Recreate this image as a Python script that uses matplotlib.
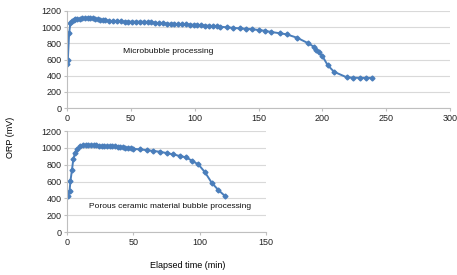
import matplotlib.pyplot as plt

# -----------------------------
# Data
# -----------------------------
micro_t = [0, 0.5, 1.5, 2.5, 4, 5, 6, 8, 10, 12, 14, 16, 18, 20, 22, 24, 26, 28,
           30, 33, 36, 39, 42, 45, 48, 51, 54, 57, 60, 63, 66, 69, 72, 75, 78,
           81, 84, 87, 90, 93, 96, 99, 102, 105, 108, 111, 114, 117, 120, 125,
           130, 135, 140, 145, 150, 155, 160, 167, 172, 180, 189, 193, 195, 197,
           200, 204, 209, 219, 224, 229, 234, 239]
micro_orp = [550, 592, 923, 1047, 1075, 1088, 1095, 1100, 1105, 1110, 1112, 1118,
             1115, 1110, 1105, 1100, 1092, 1088, 1083, 1078, 1076, 1074, 1072, 1070,
             1069, 1068, 1068, 1068, 1067, 1065, 1060, 1055, 1050, 1047, 1045, 1042,
             1040, 1037, 1035, 1034, 1032, 1030, 1028, 1025, 1020, 1018, 1014, 1010,
             1006, 998, 992, 985, 980, 975, 965, 955, 940, 924, 911, 870, 800, 760,
             717, 690, 640, 532, 449, 380, 376, 374, 373, 373]

porous_t = [0.5, 1.8, 2.5, 3.6, 4.6, 5.8, 7.1, 9.4, 12, 14, 16, 18, 20, 22, 24,
            26, 28, 30, 32, 34, 36, 38, 40, 42, 44, 46, 48, 50, 55, 60, 65, 70,
            75, 80, 85, 90, 94, 99, 104, 109, 114, 119]
porous_orp = [430, 493, 612, 738, 864, 935, 983, 1022, 1030, 1034, 1034, 1033,
              1032, 1030, 1028, 1025, 1022, 1022, 1021, 1020, 1018, 1015, 1012,
              1008, 1005, 1002, 1000, 990, 983, 975, 965, 955, 940, 924, 905, 888,
              849, 805, 711, 588, 501, 430]

y_ticks = [0, 200, 400, 600, 800, 1000, 1200]

# -----------------------------
# Style
# -----------------------------
blue = "#4A7EBB"
plt.rcParams['font.family'] = ['Liberation Sans', 'DejaVu Sans']
tick_fs = 6.5

fig = plt.figure(figsize=(4.57, 2.75), dpi=100)
ax1 = fig.add_axes([0.147, 0.607, 0.838, 0.353])
ax2 = fig.add_axes([0.147, 0.156, 0.435, 0.367])


def style_axis(ax, xmax, xstep):
    ax.set_xlim(0, xmax)
    ax.set_ylim(0, 1200)
    ax.set_xticks(range(0, xmax + 1, xstep))
    ax.set_yticks(y_ticks)
    ax.grid(axis='y', color='#d9d9d9', linewidth=0.8)
    ax.set_axisbelow(True)
    for s in ['top', 'right']:
        ax.spines[s].set_visible(False)
    for s in ['left', 'bottom']:
        ax.spines[s].set_color('#bfbfbf')
        ax.spines[s].set_linewidth(0.8)
    ax.tick_params(labelsize=tick_fs, length=2, color='#bfbfbf', pad=2,
                   labelcolor='#222222')


style_axis(ax1, 300, 50)
style_axis(ax2, 150, 50)

ax1.plot(micro_t, micro_orp, color=blue, lw=1.4, marker='D', ms=2.5,
         mec=blue, mfc=blue)
ax2.plot(porous_t, porous_orp, color=blue, lw=1.4, marker='D', ms=2.5,
         mec=blue, mfc=blue)

ax1.text(79, 705, "Microbubble processing", fontsize=6.1, ha='center', va='center',
         color='#111111')
ax2.text(78, 309, "Porous ceramic material bubble processing", fontsize=6,
         ha='center', va='center', color='#111111')

fig.text(0.022, 0.5, "ORP (mV)", rotation=90, fontsize=6.5, ha='center', va='center')
fig.text(0.41, 0.033, "Elapsed time (min)", fontsize=6.5, ha='center', va='center')

fig.savefig("out.png", dpi=100)
